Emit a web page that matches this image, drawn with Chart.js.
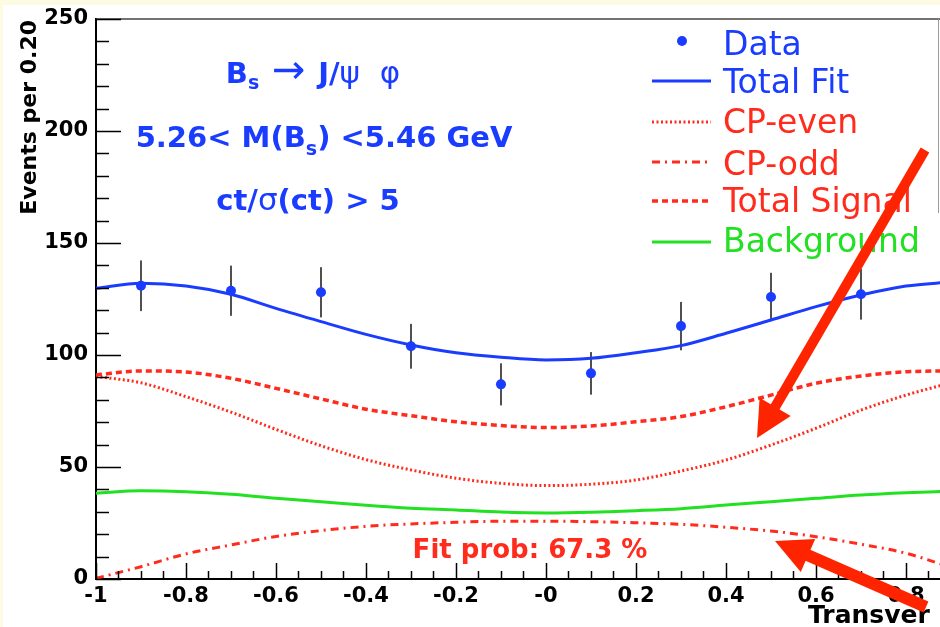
<!DOCTYPE html>
<html>
<head>
<meta charset="utf-8">
<script src="https://cdn.jsdelivr.net/npm/chart.js@4.4.1/dist/chart.umd.min.js"></script>
<style>
  html, body { margin: 0; padding: 0; background: #fff; }
  #wrap { width: 940px; height: 627px; }
</style>
</head>
<body>
<div id="wrap"><canvas id="chart" width="940" height="627"></canvas></div>
<script>
// Data
const curveX = [-1, -0.9, -0.8, -0.7, -0.6, -0.5, -0.4, -0.3, -0.2, -0.1, 0, 0.1, 0.2, 0.3, 0.4, 0.5, 0.6, 0.7, 0.8, 0.9];
const totalFit = [129.8, 132.0, 130.8, 127.1, 120.8, 114.9, 109.2, 104.5, 101.0, 99.0, 97.8, 98.5, 101.0, 104.2, 109.7, 115.6, 121.6, 126.8, 130.8, 132.6];
const cpEven = [90.4, 87.6, 81.4, 74.5, 66.8, 59.5, 53.3, 48.7, 45.0, 42.7, 41.7, 42.3, 44.2, 48.2, 53.1, 59.8, 67.3, 75.4, 82.1, 87.6];
const cpOdd = [0.3, 5.5, 11.2, 15.2, 19.0, 21.6, 23.5, 24.6, 25.3, 25.8, 25.8, 25.6, 25.1, 24.4, 23.1, 21.4, 18.9, 15.5, 11.5, 5.2];
const totalSignal = [91.1, 92.9, 92.4, 89.6, 85.1, 80.4, 75.8, 72.9, 70.2, 68.5, 67.6, 68.3, 70.2, 72.5, 76.9, 82.1, 87.4, 90.6, 92.5, 92.9];
const background = [38.3, 39.4, 39.0, 37.8, 36.0, 34.5, 32.9, 31.6, 30.8, 29.9, 29.5, 29.8, 30.5, 31.4, 33.0, 34.5, 36.0, 37.5, 38.5, 39.2];

const dataX = [-0.9, -0.7, -0.5, -0.3, -0.1, 0.1, 0.3, 0.5, 0.7];
const dataY = [130.9, 128.7, 128.0, 103.9, 86.9, 91.8, 112.9, 125.9, 127.1];
const dataErr = [11.3, 11.2, 11.2, 10.0, 9.4, 9.5, 10.8, 10.8, 11.3];

const xTickValues = [-1, -0.8, -0.6, -0.4, -0.2, 0, 0.2, 0.4, 0.6, 0.8];
const xTickLabels = ["-1", "-0.8", "-0.6", "-0.4", "-0.2", "-0", "0.2", "0.4", "0.6", "0.8"];
const yTickValues = [0, 50, 100, 150, 200, 250];
const yTickLabels = ["0", "50", "100", "150", "200", "250"];

const seriesLabels = ["Data", "Total Fit", "CP-even", "CP-odd", "Total Signal", "Background"];

const BLUE = "#1a3cff";
const RED = "#ff2b1c";
const GREEN = "#22e022";
const ARROW = "#ff2400";
const FONT = "'DejaVu Sans', 'Liberation Sans', sans-serif";

// visible part of the x range (plot is cut at the right edge)
const xMax = 0.8756;

function pts(ys) {
  return curveX.map((x, i) => ({ x: x, y: ys[i] }));
}

// draw a run of text pieces (for subscripts), centred on cx
function drawRuns(ctx, runs, cx, y, color) {
  let w = 0;
  runs.forEach((r) => {
    ctx.font = r.font;
    w += ctx.measureText(r.t).width;
  });
  let x = cx - w / 2;
  ctx.fillStyle = color;
  ctx.textAlign = "left";
  ctx.textBaseline = "alphabetic";
  runs.forEach((r) => {
    ctx.font = r.font;
    ctx.fillText(r.t, x, y + (r.dy || 0));
    x += ctx.measureText(r.t).width;
  });
}

function drawArrow(ctx, tail, tip, headLen, headHalf, width) {
  const dx = tip[0] - tail[0], dy = tip[1] - tail[1];
  const len = Math.hypot(dx, dy);
  const ux = dx / len, uy = dy / len;
  const bx = tip[0] - ux * headLen, by = tip[1] - uy * headLen;
  ctx.strokeStyle = ARROW;
  ctx.fillStyle = ARROW;
  ctx.lineWidth = width;
  ctx.lineCap = "butt";
  ctx.beginPath();
  ctx.moveTo(tail[0], tail[1]);
  ctx.lineTo(bx + ux * 2, by + uy * 2);
  ctx.stroke();
  ctx.beginPath();
  ctx.moveTo(tip[0], tip[1]);
  ctx.lineTo(bx - uy * headHalf, by + ux * headHalf);
  ctx.lineTo(bx + uy * headHalf, by - ux * headHalf);
  ctx.closePath();
  ctx.fill();
}

const decor = {
  id: "decor",
  beforeDraw(chart) {
    const ctx = chart.ctx;
    ctx.save();
    ctx.fillStyle = "#fff";
    ctx.fillRect(0, 0, chart.width, chart.height);
    // slide edge
    ctx.fillStyle = "#fdfbe2";
    ctx.fillRect(0, 0, chart.width, 5);
    ctx.fillRect(0, 0, 3, chart.height);
    ctx.restore();
  },
  beforeDatasetsDraw(chart) {
    // error bars
    const ctx = chart.ctx;
    const xs = chart.scales.x, ys = chart.scales.y;
    ctx.save();
    ctx.strokeStyle = "#505050";
    ctx.lineWidth = 2;
    dataX.forEach((x, i) => {
      const px = xs.getPixelForValue(x);
      ctx.beginPath();
      ctx.moveTo(px, ys.getPixelForValue(dataY[i] + dataErr[i]));
      ctx.lineTo(px, ys.getPixelForValue(dataY[i] - dataErr[i]));
      ctx.stroke();
    });
    ctx.restore();
  },
  afterDraw(chart) {
    const ctx = chart.ctx;
    const xs = chart.scales.x, ys = chart.scales.y;
    const a = chart.chartArea;
    ctx.save();

    // top frame
    ctx.strokeStyle = "#444";
    ctx.lineWidth = 1.5;
    ctx.beginPath();
    ctx.moveTo(a.left, a.top);
    ctx.lineTo(chart.width, a.top);
    ctx.stroke();
    // legend box edge
    ctx.strokeStyle = "#9a9a9a";
    ctx.lineWidth = 1;
    ctx.beginPath();
    ctx.moveTo(938.5, a.top);
    ctx.lineTo(938.5, 213);
    ctx.stroke();

    // inward tick marks
    ctx.strokeStyle = "#000";
    ctx.lineWidth = 1.5;
    for (let i = 0; i <= 40; i++) {
      const v = -1 + i * 0.05;
      if (v > xs.max) break;
      const px = Math.round(xs.getPixelForValue(v)) + 0.5;
      const len = i % 4 === 0 ? 16 : 8;
      ctx.beginPath();
      ctx.moveTo(px, a.bottom);
      ctx.lineTo(px, a.bottom - len);
      ctx.stroke();
    }
    for (let i = 0; i <= 25; i++) {
      const py = Math.round(ys.getPixelForValue(i * 10)) + 0.5;
      const len = i % 5 === 0 ? 25 : 13;
      ctx.beginPath();
      ctx.moveTo(a.left, py);
      ctx.lineTo(a.left + len, py);
      ctx.stroke();
    }

    // axis titles
    ctx.fillStyle = "#000";
    ctx.font = "bold 22px " + FONT;
    ctx.save();
    ctx.translate(36, 20);
    ctx.rotate(-Math.PI / 2);
    ctx.textAlign = "right";
    ctx.textBaseline = "alphabetic";
    ctx.fillText("Events per 0.20", 0, 0);
    ctx.restore();
    ctx.font = "bold 25px " + FONT;
    ctx.textAlign = "left";
    ctx.textBaseline = "alphabetic";
    ctx.fillText("Transver", 808, 623);

    // annotations
    const b = "bold 29px " + FONT;
    const bs = "bold 19px " + FONT;
    const n = "31px " + FONT;
    drawRuns(ctx, [
      { t: "B", font: b }, { t: "s", font: bs, dy: 6 },
      { t: " \u2192 ", font: "40px " + FONT }, { t: "J/", font: b }, { t: "\u03c8  \u03c6", font: n }
    ], 313, 83, BLUE);
    drawRuns(ctx, [
      { t: "5.26< M(B", font: b }, { t: "s", font: bs, dy: 8 }, { t: ") <5.46 GeV", font: b }
    ], 324, 147, BLUE);
    drawRuns(ctx, [
      { t: "ct/", font: b }, { t: "\u03c3", font: n }, { t: "(ct) > 5", font: b }
    ], 308, 210, BLUE);
    drawRuns(ctx, [{ t: "Fit prob: 67.3 %", font: "bold 26px " + FONT }], 530, 558, RED);

    // legend
    const lineY = [41, 81, 122, 162, 201, 242];
    const textY = [55, 93, 133, 175, 212, 252];
    const sets = chart.data.datasets;
    ctx.font = "33px " + FONT;
    ctx.textAlign = "left";
    ctx.textBaseline = "alphabetic";
    seriesLabels.forEach((lab, i) => {
      const ds = sets[i];
      if (i === 0) {
        ctx.fillStyle = ds.pointBackgroundColor;
        ctx.beginPath();
        ctx.arc(682, lineY[i], 5, 0, Math.PI * 2);
        ctx.fill();
      } else {
        ctx.strokeStyle = ds.borderColor;
        ctx.lineWidth = ds.borderWidth;
        ctx.setLineDash(ds.borderDash || []);
        ctx.beginPath();
        ctx.moveTo(652, lineY[i]);
        ctx.lineTo(711, lineY[i]);
        ctx.stroke();
        ctx.setLineDash([]);
      }
      ctx.fillStyle = i === 0 || i === 1 ? BLUE : (i === 5 ? GREEN : RED);
      ctx.fillText(lab, 723, textY[i]);
    });

    // red arrows drawn on the slide
    drawArrow(ctx, [925, 150], [757, 438], 36, 18, 10);
    drawArrow(ctx, [926, 607], [775, 541], 36, 18, 12);

    ctx.restore();
  }
};

const ctx = document.getElementById("chart").getContext("2d");
new Chart(ctx, {
  type: "line",
  data: {
    datasets: [
      {
        label: seriesLabels[0],
        data: dataX.map((x, i) => ({ x: x, y: dataY[i] })),
        showLine: false,
        pointRadius: 5,
        pointBackgroundColor: BLUE,
        pointBorderWidth: 0,
        borderColor: BLUE,
      },
      {
        label: seriesLabels[1],
        data: pts(totalFit),
        borderColor: BLUE,
        borderWidth: 3,
        pointRadius: 0,
        cubicInterpolationMode: "monotone",
      },
      {
        label: seriesLabels[2],
        data: pts(cpEven),
        borderColor: RED,
        borderWidth: 3,
        borderDash: [2, 2.5],
        pointRadius: 0,
        cubicInterpolationMode: "monotone",
      },
      {
        label: seriesLabels[3],
        data: pts(cpOdd),
        borderColor: RED,
        borderWidth: 3,
        borderDash: [8, 5, 2, 5],
        pointRadius: 0,
        cubicInterpolationMode: "monotone",
      },
      {
        label: seriesLabels[4],
        data: pts(totalSignal),
        borderColor: RED,
        borderWidth: 3.5,
        borderDash: [6, 4],
        pointRadius: 0,
        cubicInterpolationMode: "monotone",
      },
      {
        label: seriesLabels[5],
        data: pts(background),
        borderColor: GREEN,
        borderWidth: 3,
        pointRadius: 0,
        cubicInterpolationMode: "monotone",
      },
    ],
  },
  options: {
    responsive: false,
    animation: false,
    layout: { autoPadding: false, padding: { top: 19, left: 0, right: 0, bottom: 0 } },
    plugins: { legend: { display: false }, tooltip: { enabled: false } },
    scales: {
      x: {
        type: "linear",
        min: -1,
        max: xMax,
        afterFit(s) {
          s.height = 48;
          s.paddingLeft = 0;
          s.paddingRight = 0;
        },
        afterBuildTicks(s) { s.ticks = xTickValues.map((v) => ({ value: v })); },
        ticks: {
          autoSkip: false,
          maxRotation: 0,
          padding: 5,
          color: "#000",
          font: { family: FONT, weight: "bold", size: 21 },
          callback: (v, i) => xTickLabels[i],
        },
        grid: { display: false, drawTicks: false },
        border: { display: true, color: "#000", width: 2 },
      },
      y: {
        type: "linear",
        min: 0,
        max: 250,
        afterFit(s) {
          s.width = 96;
          s.paddingTop = 0;
          s.paddingBottom = 0;
        },
        afterBuildTicks(s) { s.ticks = yTickValues.map((v) => ({ value: v })); },
        ticks: {
          padding: 8,
          color: "#000",
          font: { family: FONT, weight: "bold", size: 21 },
          callback: (v, i) => yTickLabels[i],
        },
        grid: { display: false, drawTicks: false },
        border: { display: true, color: "#000", width: 2 },
      },
    },
  },
  plugins: [decor],
});
</script>
</body>
</html>
